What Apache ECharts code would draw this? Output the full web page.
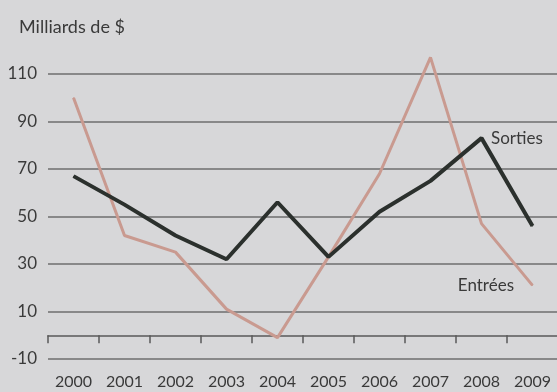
<!DOCTYPE html>
<html><head><meta charset="utf-8">
<script src="https://cdn.jsdelivr.net/npm/echarts@6/dist/echarts.min.js"></script>
<style>html,body{margin:0;padding:0;background:#d7d7d9;}#c{width:557px;height:392px;}</style>
</head><body><div id="c"></div>
<script>
const years = ['2000','2001','2002','2003','2004','2005','2006','2007','2008','2009'];
const sorties = [67, 55, 42, 32, 56, 33, 52, 65, 83, 46];
const entrees = [100, 42, 35, 11, -1, 33, 68, 117, 47, 21];
const yTicks = [-10, 10, 30, 50, 70, 90, 110];

const chart = echarts.init(document.getElementById('c'));
const font = 'Lato';
const txt = '#3a3a3a';
chart.setOption({
  backgroundColor: '#d7d7d9',
  animation: false,
  title: { text: 'Milliards de $', left: 14, top: 13,
    textStyle: { fontFamily: font, fontSize: 18, fontWeight: 'normal', color: txt } },
  grid: { left: 48, right: -1, top: 74, bottom: 33, containLabel: false, outerBoundsMode: 'none' },
  xAxis: [{
    type: 'category', data: years, boundaryGap: true,
    axisLine: { onZero: true, lineStyle: { color: '#5a5a5a', width: 1.5 } },
    axisTick: { show: true, length: 8, lineStyle: { color: '#5a5a5a', width: 1.5 } },
    axisLabel: { show: false }
  }, {
    type: 'category', data: years, boundaryGap: true, position: 'bottom',
    axisLine: { show: false, onZero: false }, axisTick: { show: false },
    axisLabel: { margin: 15, fontFamily: font, fontSize: 16, color: txt }
  }],
  yAxis: {
    type: 'value', min: yTicks[0], max: yTicks[yTicks.length - 1], interval: 20,
    axisLine: { show: false }, axisTick: { show: false },
    axisLabel: { margin: 11, fontFamily: font, fontSize: 17, color: txt },
    splitLine: { lineStyle: { color: '#6e6e6e', width: 1.5 } }
  },
  series: [
    { name: 'Entrées', type: 'line', data: entrees.map((v, i) => i === entrees.length - 1 ?
        { value: v, label: { show: true, position: 'left', distance: 18, formatter: 'Entrées',
          fontFamily: font, fontSize: 17, color: txt } } : v),
      clip: false, symbol: 'circle', symbolSize: 1, showSymbol: true,
      itemStyle: { color: '#c99a90' },
      lineStyle: { color: '#c99a90', width: 3 }, z: 2 },
    { name: 'Sorties', type: 'line', data: sorties.map((v, i) => i === 8 ?
        { value: v, label: { show: true, position: 'right', distance: 9, formatter: 'Sorties',
          fontFamily: font, fontSize: 17, color: txt } } : v),
      clip: false, symbol: 'circle', symbolSize: 1, showSymbol: true,
      itemStyle: { color: '#2b302d' },
      lineStyle: { color: '#2b302d', width: 4 }, z: 3 }
  ]
});
</script></body></html>
